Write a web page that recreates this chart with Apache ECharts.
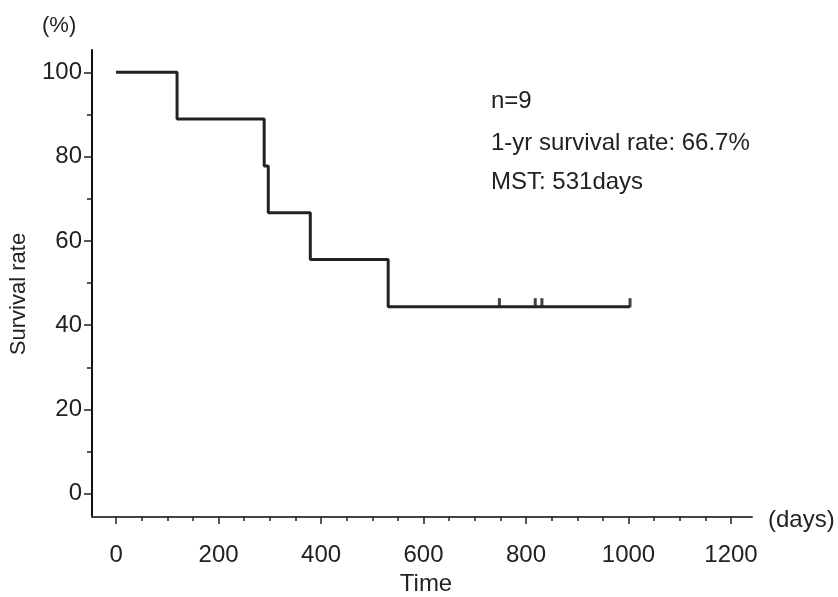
<!DOCTYPE html>
<html>
<head>
<meta charset="utf-8">
<script src="https://cdn.jsdelivr.net/npm/echarts@6/dist/echarts.min.js"></script>
<style>
  html, body { margin: 0; padding: 0; background: #fff; }
  #chart { width: 838px; height: 597px; }
</style>
</head>
<body>
<div id="chart"></div>
<script>
// Kaplan-Meier steps (days, survival %)
const eventDays = [0, 119, 289, 297, 379, 531, 1003];
const survival = [100, 88.9, 77.8, 66.7, 55.6, 44.4, 44.4];
// censored cases
const censorDays = [748, 818, 831, 1003];
const censorSurv = [44.4, 44.4, 44.4, 44.4];
// tick labels
const xMajor = [0, 200, 400, 600, 800, 1000, 1200];
const xMinor = [50, 100, 150, 250, 300, 350, 450, 500, 550, 650, 700, 750, 850, 900, 950, 1050, 1100, 1150];
const yMajor = [0, 20, 40, 60, 80, 100];
const yMinor = [10, 30, 50, 70, 90];
const notes = ['n=9', '1-yr survival rate: 66.7%', 'MST: 531days'];

const font = "'Liberation Sans', Arial, sans-serif";
const ink = '#222';

const chart = echarts.init(document.getElementById('chart'));

const xBase = { type: 'value', min: -47, max: 1241, position: 'bottom', splitLine: { show: false } };
const yBase = { type: 'value', min: -5.5, max: 105.3, position: 'left', splitLine: { show: false } };

chart.setOption({
  backgroundColor: '#fff',
  animation: false,
  grid: { left: 92, right: 86, top: 50, bottom: 80 },
  xAxis: [
    Object.assign({}, xBase, {
      axisLine: { onZero: false, lineStyle: { color: '#444', width: 2 } },
      axisTick: { customValues: xMajor, length: 7, lineStyle: { color: ink, width: 1.5 } },
      axisLabel: { customValues: xMajor, formatter: v => String(v), margin: 26, fontSize: 24, color: ink, fontFamily: font }
    }),
    Object.assign({}, xBase, {
      axisLine: { show: false, onZero: false },
      axisTick: { customValues: xMinor, length: 4, lineStyle: { color: ink, width: 1.5 } },
      axisLabel: { show: false }
    })
  ],
  yAxis: [
    Object.assign({}, yBase, {
      axisLine: { onZero: false, lineStyle: { color: '#111', width: 2 } },
      axisTick: { customValues: yMajor, length: 8, lineStyle: { color: ink, width: 1.5 } },
      axisLabel: { customValues: yMajor, formatter: v => String(v), margin: 10, fontSize: 24, color: ink, fontFamily: font }
    }),
    Object.assign({}, yBase, {
      axisLine: { show: false, onZero: false },
      axisTick: { customValues: yMinor, length: 5, lineStyle: { color: ink, width: 1.5 } },
      axisLabel: { show: false }
    })
  ],
  series: [
    {
      type: 'line',
      step: 'end',
      xAxisIndex: 0,
      yAxisIndex: 0,
      showSymbol: false,
      lineStyle: { color: ink, width: 3 },
      data: eventDays.map((d, i) => [d, survival[i]])
    },
    {
      type: 'scatter',
      xAxisIndex: 0,
      yAxisIndex: 0,
      symbol: 'rect',
      symbolSize: [3, 9],
      symbolOffset: [0, -4],
      itemStyle: { color: '#111' },
      data: censorDays.map((d, i) => [d, censorSurv[i]])
    }
  ],
  graphic: [
    { type: 'text', left: 42, top: 15, style: { text: '(%)', fontSize: 22, fill: ink, fontFamily: font } },
    {
      type: 'text', x: 19, y: 294, rotation: Math.PI / 2,
      style: { text: 'Survival rate', fontSize: 22, fill: ink, fontFamily: font, align: 'center', verticalAlign: 'middle' }
    },
    { type: 'text', x: 426, y: 584, style: { text: 'Time', fontSize: 24, fill: ink, fontFamily: font, align: 'center', verticalAlign: 'middle' } },
    { type: 'text', x: 768, y: 520, style: { text: '(days)', fontSize: 24, fill: ink, fontFamily: font, verticalAlign: 'middle' } },
    { type: 'text', x: 491, y: 101, style: { text: notes[0], fontSize: 24, fill: ink, fontFamily: font, verticalAlign: 'middle' } },
    { type: 'text', x: 491, y: 143, style: { text: notes[1], fontSize: 24, fill: ink, fontFamily: font, verticalAlign: 'middle' } },
    { type: 'text', x: 491, y: 182, style: { text: notes[2], fontSize: 24, fill: ink, fontFamily: font, verticalAlign: 'middle' } }
  ]
});
</script>
</body>
</html>
